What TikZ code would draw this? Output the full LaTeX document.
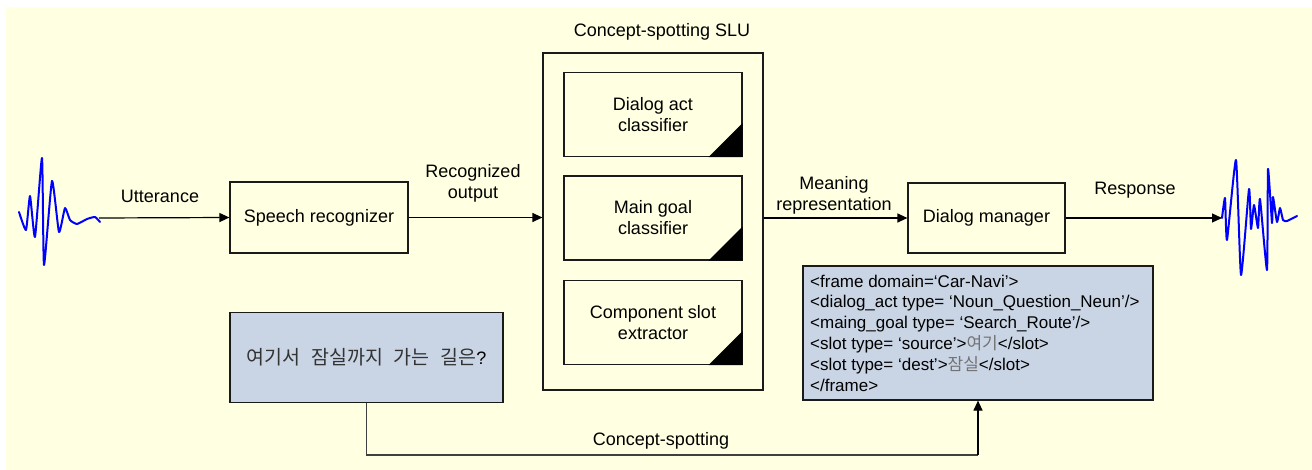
\documentclass[tikz,border=0pt]{standalone}
\usepackage{fontspec}
\setmainfont{Liberation Sans}
\newfontfamily\krfont{Noto Sans CJK KR}
\usetikzlibrary{arrows.meta,calc}
\definecolor{bg}{HTML}{FFFFE1}
\definecolor{bluefill}{HTML}{C9D5E5}
\definecolor{wavecol}{HTML}{0000FF}
\definecolor{linecol}{HTML}{1A1A1A}
\begin{document}
\begin{tikzpicture}[x=1pt,y=-1pt,
  every node/.style={font=\fontsize{18}{21}\selectfont, inner sep=0pt, text=black},
  box/.style={draw=linecol, line width=1.2pt, fill=bg},
  bluebox/.style={draw=linecol, line width=1.2pt, fill=bluefill},
  inbox/.style={box, minimum width=178, minimum height=84, align=center},
  lbl/.style={align=center},
  arr/.style={draw=black, line width=1.2pt, -{Triangle[length=10pt,width=9pt]}},
  conn/.style={draw=black!75, line width=1.2pt},
  wavestyle/.style={draw=wavecol, line width=2pt, line join=round, line cap=round}
]
\useasboundingbox (0,0) rectangle (1312,470);
\fill[bg] (6,7) rectangle (1312,470);

% waveforms
\draw[wavestyle] plot[smooth, tension=0.3] coordinates {(19,212) (26,230) (30,196) (35,237) (42,158) (44,265) (52,181) (59,232) (65,208) (70,220) (77,224) (87,219) (95,217) (100,222)};
\draw[wavestyle] plot[smooth, tension=0.3] coordinates {(1222,218) (1225,198) (1227,240) (1236,160) (1241,275) (1249,189) (1251,229) (1254,205) (1258,228) (1260,199) (1267,270) (1268,169) (1272,223) (1273,197) (1277,222) (1280,208) (1283,220) (1287,221) (1297,216)};
\coordinate (uttstart) at (99,218);
\coordinate (respend) at (1222,218);

% main boxes
\node[box, minimum width=178, minimum height=71] (sr) at (319,217.5) {Speech recognizer};
\node[box, minimum width=220, minimum height=337] (slu) at (653,221.5) {};
\node (slutitle) at (662,32) {Concept-spotting SLU};
\node[inbox] (da) at (653,114.5) {Dialog act\\classifier};
\node[inbox] (mg) at (653,218) {Main goal\\classifier};
\node[inbox] (cs) at (653,322.5) {Component slot\\extractor};
\foreach \b in {da,mg,cs}{
  \fill[black] (\b.south east) -- ++(-34,0) -- ++(34,-34) -- cycle;
}
\node[box, minimum width=157, minimum height=70] (dm) at (986.5,218) {Dialog manager};

% arrows
\draw[arr] (uttstart) -- (sr.west);
\draw[arr] (sr.east) -- (sr.east -| slu.west);
\draw[arr] (slu.east |- dm.west) -- (dm.west);
\draw[arr] (dm.east) -- (respend);

% labels
\node[lbl] (utt) at (160,196) {Utterance};
\node[lbl] (reco) at (473,183) {Recognized\\output};
\node[lbl] (mean) at (834,195) {Meaning\\representation};
\node[lbl] (resp) at (1135,190) {Response};

% korean box
\node[bluebox, minimum width=273, minimum height=90] (kor) at (366.5,357.5)
  {{\krfont\fontsize{19.5}{22}\selectfont\color{black!80}여기서\hspace{0.55em}잠실까지\hspace{0.55em}가는\hspace{0.55em}길은}?};

% frame box
\node[bluebox, minimum width=350, minimum height=134] (frame) at (978,333) {};
\node[anchor=base west, align=left, font=\fontsize{17}{20.8}\selectfont] (frametext) at (810,391)
  {<frame domain=‘Car-Navi’>\\
   <dialog\_act type= ‘Noun\_Question\_Neun’/>\\
   <maing\_goal type= ‘Search\_Route’/>\\
   <slot type= ‘source’>{\krfont\color{black!55}여기}</slot>\\
   <slot type= ‘dest’>{\krfont\color{black!55}잠실}</slot>\\
   </frame>};

% concept-spotting connector
\coordinate (bend) at (978,455);
\draw[conn] (kor.south) -- (kor.south |- bend) -- (bend);
\draw[arr] (bend) -- (frame.south);
\node (cslbl) at (661,441) {Concept-spotting};
\end{tikzpicture}
\end{document}
